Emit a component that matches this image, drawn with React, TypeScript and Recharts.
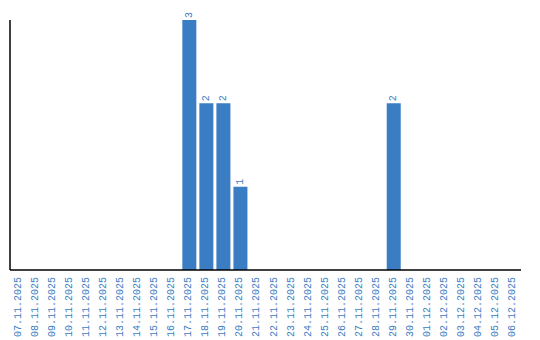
import { Bar, BarChart, XAxis, YAxis, LabelList } from "recharts";

const days = [
  "07.11.2025", "08.11.2025", "09.11.2025", "10.11.2025", "11.11.2025",
  "12.11.2025", "13.11.2025", "14.11.2025", "15.11.2025", "16.11.2025",
  "17.11.2025", "18.11.2025", "19.11.2025", "20.11.2025", "21.11.2025",
  "22.11.2025", "23.11.2025", "24.11.2025", "25.11.2025", "26.11.2025",
  "27.11.2025", "28.11.2025", "29.11.2025", "30.11.2025", "01.12.2025",
  "02.12.2025", "03.12.2025", "04.12.2025", "05.12.2025", "06.12.2025",
];
const counts = [0, 0, 0, 0, 0, 0, 0, 0, 0, 0, 3, 2, 2, 1, 0, 0, 0, 0, 0, 0, 0, 0, 2, 0, 0, 0, 0, 0, 0, 0];

const data = days.map((day, i) => ({ day, count: counts[i] }));

const BLUE = "#3b7dc3";
const FONT = "'Liberation Mono', 'DejaVu Sans Mono', monospace";

function DayTick({ x, y, payload }: any) {
  return (
    <text
      transform={`translate(${x},${y - 1}) rotate(-90)`}
      textAnchor="end"
      dominantBaseline="central"
      fill={BLUE}
      fontSize={10}
      fontFamily={FONT}
    >
      {payload.value}
    </text>
  );
}

function TopLabel({ x, y, width, value }: any) {
  if (!value) return null;
  return (
    <text
      transform={`translate(${x + width / 2},${y - 2}) rotate(-90)`}
      textAnchor="start"
      dominantBaseline="central"
      fill={BLUE}
      fontSize={10}
      fontFamily={FONT}
    >
      {value}
    </text>
  );
}

export default function App() {
  return (
    <div style={{ position: "absolute", left: 0, top: 0, width: 540, height: 340, background: "#fff" }}>
      <BarChart width={540} height={340} data={data} margin={{ top: 20, right: 19, left: 9, bottom: 0 }} barSize={14}>
        <XAxis
          dataKey="day"
          interval={0}
          height={70}
          tickLine={false}
          axisLine={{ stroke: "#000", strokeWidth: 1.5 }}
          tick={<DayTick />}
        />
        <YAxis width={1} domain={[0, 3]} tick={false} tickLine={false} axisLine={{ stroke: "#000", strokeWidth: 1.5 }} />
        <Bar dataKey="count" fill={BLUE} isAnimationActive={false}>
          <LabelList dataKey="count" content={<TopLabel />} />
        </Bar>
      </BarChart>
    </div>
  );
}
